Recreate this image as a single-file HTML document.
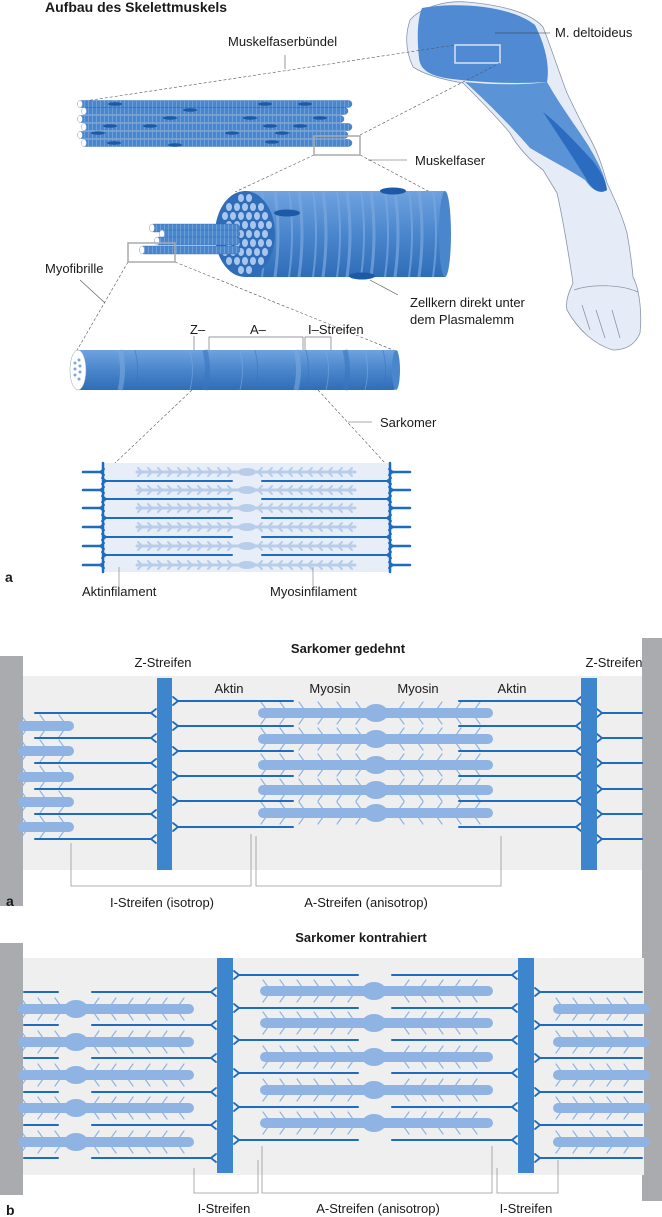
<!DOCTYPE html>
<html><head><meta charset="utf-8">
<style>
html,body{margin:0;padding:0;background:#fff}
svg{display:block}
text{font-family:"Liberation Sans",sans-serif;font-size:13px;fill:#1a1a1a}
.b{font-weight:bold}
</style></head>
<body>
<svg id="s" xmlns="http://www.w3.org/2000/svg" width="662" height="1217" viewBox="0 0 662 1217">
<defs>
<pattern id="st" width="4" height="10" patternUnits="userSpaceOnUse"><rect width="4" height="10" fill="#4a86cc"/><rect width="1" height="10" fill="#6b9edb"/></pattern>
<linearGradient id="cyl" x1="0" y1="0" x2="0" y2="1"><stop offset="0" stop-color="#6fa2e0"/><stop offset="0.5" stop-color="#4a86cc"/><stop offset="1" stop-color="#2f6db8"/></linearGradient>
</defs>

<!-- ===== Part a (top) ===== -->
<text x="45" y="12" class="b" style="font-size:14px">Aufbau des Skelettmuskels</text>

<!-- arm -->
<path d="M467,2 C500,5 530,12 543,27 C552,50 560,75 567,93 C575,110 580,120 587,133 C597,150 602,165 607,183 C615,200 622,215 627,233 C630,250 632,265 633,277 C640,290 642,315 640,333 C635,345 625,350 613,350 C595,345 578,330 567,310 C565,300 570,290 573,283 C568,250 562,215 557,193 C552,185 548,178 543,170 C530,160 518,148 510,133 C495,115 478,98 463,83 C445,80 425,75 413,67 C405,50 405,35 410,20 C420,8 445,0 467,2 Z" fill="#e6ecf7" stroke="#8a95a8" stroke-width="0.8"/>
<path d="M422,8 C455,2 510,5 535,25 C545,45 550,65 547,82 C515,84 480,83 445,78 C430,75 420,70 419,58 C417,40 417,20 422,8 Z" fill="#4f8ad2"/>
<path d="M465,82 C495,85 525,85 547,82 C560,105 575,125 588,145 C598,162 605,175 607,190 C600,195 592,190 585,180 C570,170 550,160 530,148 C510,125 485,100 465,82 Z" fill="#5a93d6"/>
<path d="M543,112 C560,125 578,145 592,160 C600,170 606,180 607,190 C600,194 593,190 588,182 C575,160 558,135 543,112 Z" fill="#2b6cc0"/>
<path d="M574,290 C590,284 620,284 638,292 M582,305 L590,330 M596,310 L605,338 M612,310 L620,338" fill="none" stroke="#8a95a8" stroke-width="0.8"/>
<rect x="455" y="45" width="45" height="18" fill="none" stroke="#d8e2f2" stroke-width="1.5"/>
<line x1="495" y1="33" x2="550" y2="33" stroke="#333" stroke-width="0.6"/>
<text x="555" y="37">M. deltoideus</text>

<!-- dashed connectors -->
<g stroke="#555" stroke-width="0.6" stroke-dasharray="3,2" fill="none">
<line x1="85" y1="101" x2="455" y2="45"/>
<line x1="360" y1="135" x2="500" y2="63"/>
<line x1="314" y1="155" x2="235" y2="192"/>
<line x1="360" y1="155" x2="430" y2="192"/>
<line x1="128" y1="262" x2="76" y2="352"/>
<line x1="175" y1="262" x2="398" y2="352"/>
<line x1="192" y1="390" x2="115" y2="463"/>
<line x1="318" y1="390" x2="385" y2="463"/>
</g>
<line x1="285" y1="55" x2="285" y2="69" stroke="#555" stroke-width="0.6"/>
<text x="228" y="46">Muskelfaserbündel</text>

<!-- bundle -->
<g id="bundle"></g>
<rect x="314" y="136" width="46" height="19" fill="none" stroke="#aaa" stroke-width="1.5"/>
<line x1="368" y1="160" x2="407" y2="160" stroke="#555" stroke-width="0.6"/>
<text x="415" y="165">Muskelfaser</text>

<!-- big fiber -->
<rect x="245" y="191" width="200" height="86" fill="url(#cyl)"/>
<g id="fibstr"></g>
<ellipse cx="445" cy="234" rx="6" ry="43" fill="#4a86cc"/>
<ellipse cx="245" cy="234" rx="30" ry="43" fill="#2f6db8"/>
<g id="dots"></g>
<ellipse cx="287" cy="213" rx="13" ry="3.5" fill="#1d5aa6"/>
<ellipse cx="393" cy="191" rx="13" ry="3.5" fill="#1d5aa6"/>
<ellipse cx="362" cy="276" rx="13" ry="3.5" fill="#1d5aa6"/>
<line x1="370" y1="280" x2="398" y2="295" stroke="#555" stroke-width="0.6"/>
<text x="410" y="307">Zellkern direkt unter</text>
<text x="410" y="324">dem Plasmalemm</text>
<g id="myof"></g>
<rect x="128" y="243" width="47" height="19" fill="none" stroke="#aaa" stroke-width="1.5"/>
<text x="45" y="273">Myofibrille</text>
<line x1="80" y1="280" x2="105" y2="303" stroke="#555" stroke-width="0.6"/>

<!-- myofibril -->
<rect x="76" y="350" width="320" height="40" rx="3" fill="url(#cyl)"/>
<g id="mfstr"></g>
<ellipse cx="396" cy="370" rx="4" ry="20" fill="#4a86cc"/>
<ellipse cx="78" cy="370" rx="8" ry="20" fill="#fff" stroke="#8aa" stroke-width="0.5"/>
<g fill="#7fa6d8"><circle cx="75" cy="363" r="1.5"/><circle cx="79" cy="360" r="1.5"/><circle cx="75" cy="369" r="1.5"/><circle cx="80" cy="366" r="1.5"/><circle cx="75" cy="375" r="1.5"/><circle cx="80" cy="372" r="1.5"/><circle cx="79" cy="379" r="1.5"/></g>
<text x="190" y="334">Z–</text>
<text x="250" y="334">A–</text>
<text x="308" y="334">I–Streifen</text>
<path d="M194,350 V336 M209,350 V337 H303 V350 M305,350 V337 H331 V350" fill="none" stroke="#777" stroke-width="0.7"/>
<line x1="348" y1="422" x2="372" y2="422" stroke="#555" stroke-width="0.6"/>
<text x="380" y="427">Sarkomer</text>

<!-- small sarcomere -->
<rect x="103" y="463" width="287" height="109" fill="#e8eef8"/>
<g id="smallsar"></g>
<line x1="119" y1="567" x2="119" y2="586" stroke="#777" stroke-width="0.6"/>
<line x1="313" y1="567" x2="313" y2="586" stroke="#777" stroke-width="0.6"/>
<text x="82" y="596">Aktinfilament</text>
<text x="270" y="596">Myosinfilament</text>
<text x="5" y="582" class="b" style="font-size:14px">a</text>

<!-- ===== Part b: gedehnt ===== -->
<rect x="22" y="676" width="622" height="194" fill="#efefef"/>
<rect x="0" y="656" width="23" height="250" fill="#a9abae"/>
<rect x="642" y="638" width="20" height="563" fill="#a9abae"/>
<text x="348" y="653" class="b" text-anchor="middle">Sarkomer gedehnt</text>
<text x="163" y="667" text-anchor="middle">Z-Streifen</text>
<text x="614" y="667" text-anchor="middle">Z-Streifen</text>
<text x="229" y="693" text-anchor="middle">Aktin</text>
<text x="330" y="693" text-anchor="middle">Myosin</text>
<text x="418" y="693" text-anchor="middle">Myosin</text>
<text x="512" y="693" text-anchor="middle">Aktin</text>
<g id="ged"></g>
<rect x="157" y="678" width="15" height="192" fill="#3d85cc"/>
<rect x="581" y="678" width="16" height="192" fill="#3d85cc"/>
<path d="M71,843 V886 H251 V834 M256,836 V886 H501 V836" fill="none" stroke="#999" stroke-width="0.8"/>
<text x="162" y="907" text-anchor="middle">I-Streifen (isotrop)</text>
<text x="366" y="907" text-anchor="middle">A-Streifen (anisotrop)</text>
<text x="6" y="906" class="b" style="font-size:14px">a</text>

<!-- ===== Part b: kontrahiert ===== -->
<rect x="22" y="958" width="622" height="217" fill="#efefef"/>
<rect x="0" y="943" width="23" height="252" fill="#a9abae"/>
<text x="361" y="942" class="b" text-anchor="middle">Sarkomer kontrahiert</text>
<g id="kon"></g>
<rect x="217" y="958" width="16" height="215" fill="#3d85cc"/>
<rect x="518" y="958" width="16" height="215" fill="#3d85cc"/>
<path d="M194,1168 V1193 H258 V1160 M262,1146 V1193 H492 V1146 M497,1168 V1193 H558 V1160" fill="none" stroke="#999" stroke-width="0.8"/>
<text x="224" y="1213" text-anchor="middle">I-Streifen</text>
<text x="378" y="1213" text-anchor="middle">A-Streifen (anisotrop)</text>
<text x="526" y="1213" text-anchor="middle">I-Streifen</text>
<text x="6" y="1215" class="b" style="font-size:14px">b</text>
</svg>
<script>
var NS="http://www.w3.org/2000/svg";
function el(p,t,a){var e=document.createElementNS(NS,t);for(var k in a)e.setAttribute(k,a[k]);document.getElementById(p).appendChild(e);return e;}
function ln(p,x1,y1,x2,y2,c,w){return el(p,"line",{x1:x1,y1:y1,x2:x2,y2:y2,stroke:c,"stroke-width":w,"stroke-linecap":"round"});}
var AK="#1d6cc0",MY="#8fb4e4",MYL="#b7cdea";
var bys=[104,111,119,127,135,143];
for(var i=0;i<bys.length;i++){var x0=78+(i%2)*4,x1=352-(i%3)*4+(i==5?8:0);
 el("bundle","rect",{x:x0,y:bys[i]-3.5,width:x1-x0,height:7,rx:3.5,fill:"url(#st)",stroke:"#2f68b0","stroke-width":0.4});
 el("bundle","ellipse",{cx:x0+2,cy:bys[i],rx:2.5,ry:3.5,fill:"#fff",stroke:"#7a9cc8","stroke-width":0.5});}
[[115,104],[190,110],[265,104],[305,104],[170,118],[250,118],[320,118],[110,126],[150,126],[270,126],[300,126],[98,133],[232,133],[282,133],[114,143],[175,145],[272,142]].forEach(function(p){el("bundle","ellipse",{cx:p[0],cy:p[1],rx:7,ry:1.8,fill:"#1d5aa6"});});
for(var x=262;x<440;x+=9+((x*7)%6)){el("fibstr","path",{d:"M"+x+",191 q6,43 0,86",fill:"none",stroke:"#7aa8e0","stroke-width":(x%3)+1,opacity:0.7});}
for(var r=0;r<9;r++)for(var c=0;c<6;c++){var dy=(r-4)*9,dx=(c-2.5)*8+((r%2)*4);if((dx*dx)/(26*26)+(dy*dy)/(40*40)<1)el("dots","ellipse",{cx:245+dx,cy:234+dy,rx:3,ry:4,fill:"#a9c6ee"});}
[[150,228],[160,234],[155,241],[140,250]].forEach(function(p){
 el("myof","rect",{x:p[0],y:p[1]-4,width:240-p[0],height:8,rx:4,fill:"url(#st)",stroke:"#2f68b0","stroke-width":0.4});
 el("myof","ellipse",{cx:p[0]+2,cy:p[1],rx:2.5,ry:4,fill:"#fff",stroke:"#7a9cc8","stroke-width":0.5});});
[120,135,190,205,240,255,296,306,326,345,365,383].forEach(function(x,i){el("mfstr","path",{d:"M"+x+",350 q5,20 0,40",fill:"none",stroke:i%2?"#3a76c0":"#7aa8e0","stroke-width":i%3?1:5,opacity:0.6});});
(function(){var outer=[472,490,508,527,546,565],inner=[481,499,518,537,555];
 outer.forEach(function(y){
  ln("smallsar",137,y,355,y,MYL,3);
  el("smallsar","ellipse",{cx:247,cy:y,rx:9,ry:4,fill:MYL});
  for(var x=142;x<238;x+=10){ln("smallsar",x,y,x-4,y-4,MYL,2);ln("smallsar",x,y,x-4,y+4,MYL,2);}
  for(var x=258;x<352;x+=10){ln("smallsar",x,y,x+4,y-4,MYL,2);ln("smallsar",x,y,x+4,y+4,MYL,2);}
  ln("smallsar",83,y,100,y,AK,2.5);ln("smallsar",100,y,104,y-3,AK,2);ln("smallsar",100,y,104,y+3,AK,2);
  ln("smallsar",393,y,410,y,AK,2.5);ln("smallsar",393,y,389,y-3,AK,2);ln("smallsar",393,y,389,y+3,AK,2);});
 inner.forEach(function(y){ln("smallsar",106,y,232,y,AK,2);ln("smallsar",106,y,102,y-3,AK,2);ln("smallsar",106,y,102,y+3,AK,2);
  ln("smallsar",262,y,387,y,AK,2);ln("smallsar",387,y,391,y-3,AK,2);ln("smallsar",387,y,391,y+3,AK,2);});
 ln("smallsar",103,463,103,572,AK,2.5);ln("smallsar",390,463,390,572,AK,2.5);})();
function myo(g,x1,x2,y,cx,sp){
 for(var x=x1+8;x<x2-4;x+=sp){if(cx!==null&&Math.abs(x-cx)<14)continue;var d=(cx===null||x<cx)?-1:1;
  ln(g,x,y-4,x+d*5,y-11,MY,1.2);ln(g,x,y+4,x+d*5,y+11,MY,1.2);}
 el(g,"rect",{x:x1,y:y-5,width:x2-x1,height:10,rx:5,fill:MY});
 if(cx!==null)el(g,"ellipse",{cx:cx,cy:y,rx:12,ry:9,fill:MY});}
function zfork(g,xz,y,dir){
 ln(g,xz,y,xz+dir*5,y-4,AK,1.8);ln(g,xz,y,xz+dir*5,y+4,AK,1.8);}
(function(){var g="ged";
 [713,739,765,790,813].forEach(function(y){myo(g,258,493,y,376,19);});
 [726,751,777,802,827].forEach(function(y){myo(g,18,74,y,null,19);});
 [713,738,763,789,814,839].forEach(function(y){
  ln(g,35,y,150,y,AK,2);zfork(g,151,y,1);
  ln(g,602,y,642,y,AK,2);zfork(g,602,y,-1);});
 [701,726,751,776,801,827].forEach(function(y){
  ln(g,178,y,293,y,AK,2);zfork(g,178,y,-1);
  ln(g,459,y,576,y,AK,2);zfork(g,576,y,1);});})();
(function(){var g="kon";
 [991,1023,1057,1090,1123].forEach(function(y){myo(g,260,493,y,374,17);});
 [1009,1042,1075,1108,1142].forEach(function(y){myo(g,18,194,y,76,17);myo(g,553,650,y,null,17);});
 [975,1008,1040,1073,1107,1140].forEach(function(y){
  ln(g,239,y,358,y,AK,2);zfork(g,239,y,-1);
  ln(g,392,y,512,y,AK,2);zfork(g,512,y,1);});
 [992,1025,1058,1092,1125,1158].forEach(function(y){
  ln(g,24,y,58,y,AK,2);ln(g,92,y,211,y,AK,2);zfork(g,211,y,1);
  ln(g,540,y,642,y,AK,2);zfork(g,540,y,-1);});})();
</script>
</body></html>
